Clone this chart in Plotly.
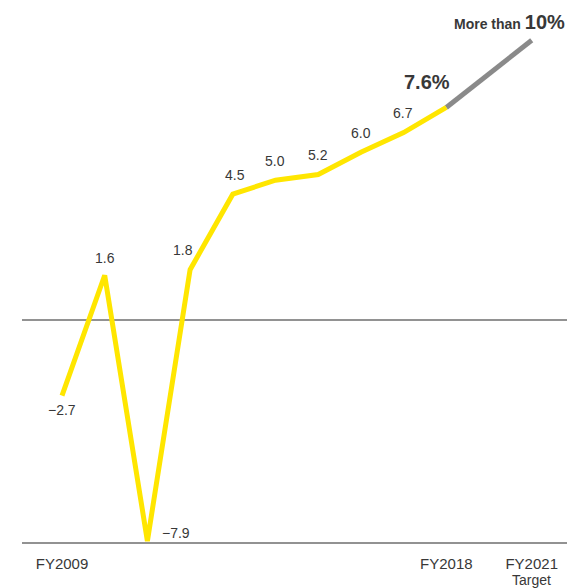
import plotly.graph_objects as go

years = ["FY2009", "FY2010", "FY2011", "FY2012", "FY2013", "FY2014",
         "FY2015", "FY2016", "FY2017", "FY2018"]
values = [-2.7, 1.6, -7.9, 1.8, 4.5, 5.0, 5.2, 6.0, 6.7, 7.6]
target_label = "FY2021"
target_sub = "Target"
target_value = 10.0

xs = list(range(len(years)))
x_target = len(years) + 1  # two steps after the last actual year

FONT = "Liberation Sans, Arial, sans-serif"
TXT = "#383838"

fig = go.Figure()
fig.add_trace(go.Scatter(x=[xs[-1], x_target], y=[values[-1], target_value],
                         mode="lines", line=dict(color="#8a8a8a", width=5),
                         hoverinfo="skip"))
fig.add_trace(go.Scatter(x=xs, y=values, mode="lines",
                         line=dict(color="#FFE600", width=5),
                         hoverinfo="skip"))

def fmt(v):
    return ("\u2212" if v < 0 else "") + f"{abs(v):.1f}"

# label offsets (xshift, yshift)
offsets = {0: (0, -14), 1: (0, 17), 2: (29, 8), 3: (-7, 20), 4: (2, 19),
           5: (-1, 19), 6: (0, 20), 7: (0, 19), 8: (-1, 20)}
ann = []
for i, v in enumerate(values[:-1]):
    dx, dy = offsets[i]
    ann.append(dict(x=xs[i], y=v, xref="x", yref="y", text=fmt(v),
                    showarrow=False, xshift=dx, yshift=dy,
                    font=dict(family=FONT, size=14, color=TXT)))
ann.append(dict(x=xs[-1], y=values[-1], xref="x", yref="y",
                text=f"<b>{values[-1]:.1f}%</b>", showarrow=False,
                xshift=-19, yshift=25,
                font=dict(family=FONT, size=20, color=TXT)))
ann.append(dict(x=1, y=target_value, xref="paper", yref="y",
                xanchor="right",
                text="<b><span style='font-size:14px'>More than </span>10%</b>",
                showarrow=False, yshift=18,
                font=dict(family=FONT, size=20, color=TXT)))
ann.append(dict(x=x_target, y=0, xref="x", yref="paper", text=target_sub,
                showarrow=False, yanchor="middle", yshift=-37,
                font=dict(family=FONT, size=14, color=TXT)))

shapes = [
    dict(type="line", xref="paper", yref="y", x0=22/567, x1=1, y0=0, y1=0,
         line=dict(color="#6e6e6e", width=1.5), layer="below"),
    dict(type="line", xref="paper", yref="paper", x0=22/567, x1=1, y0=0, y1=0,
         line=dict(color="#6e6e6e", width=1.5), layer="below"),
]

fig.update_layout(
    width=567, height=588,
    margin=dict(l=0, r=0, t=0, b=45),
    paper_bgcolor="white", plot_bgcolor="white",
    showlegend=False,
    annotations=ann, shapes=shapes,
    xaxis=dict(range=[-62/42.7, (567-62)/42.7], showgrid=False, zeroline=False,
               showline=False, ticks="", ticklabelstandoff=10, automargin=False,
               tickvals=[xs[0], xs[-1], x_target],
               ticktext=[years[0], years[-1], target_label],
               tickfont=dict(family=FONT, size=15, color=TXT)),
    yaxis=dict(range=[-7.97, 11.44], showgrid=False, zeroline=False,
               showline=False, showticklabels=False, ticks="", automargin=False),
)
fig.write_html("out.html")
